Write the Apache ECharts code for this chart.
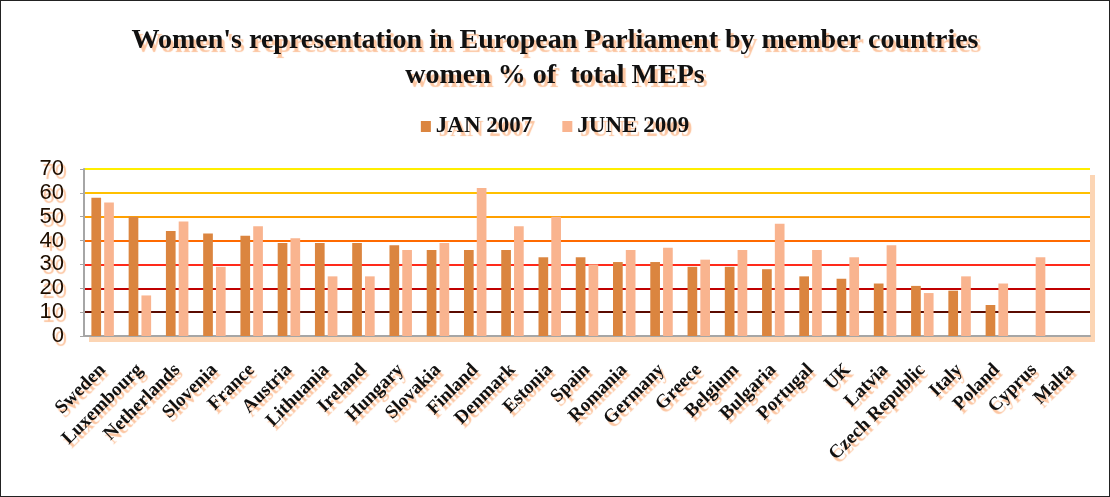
<!DOCTYPE html>
<html><head><meta charset="utf-8">
<script src="https://cdn.jsdelivr.net/npm/echarts@6/dist/echarts.min.js"></script>
<style>html,body{margin:0;padding:0;background:#fff}#c{width:1108px;height:495px;border:1px solid #222;}</style>
</head><body><div id="c"></div>
<script>
const categories = ["Sweden","Luxembourg","Netherlands","Slovenia","France","Austria","Lithuania","Ireland","Hungary","Slovakia","Finland","Denmark","Estonia","Spain","Romania","Germany","Greece","Belgium","Bulgaria","Portugal","UK","Latvia","Czech Republic","Italy","Poland","Cyprus","Malta"];
const jan2007 = [58,50,44,43,42,39,39,39,38,36,36,36,33,33,31,31,29,29,28,25,24,22,21,19,13,0,0];
const june2009 = [56,17,48,29,46,41,25,25,36,39,62,46,50,30,36,37,32,36,47,36,33,38,18,25,22,33,0];
const yTicks = [0,10,20,30,40,50,60,70];

const shadow = {textShadowColor:'#fcc5a0', textShadowOffsetX:3, textShadowOffsetY:4, textShadowBlur:1};
const chart = echarts.init(document.getElementById('c'));
chart.setOption({
  animation:false,
  title:{
    text:"Women's representation in European Parliament by member countries\nwomen % of  total MEPs",
    left:'center', top:17,
    textStyle:Object.assign({fontFamily:'Liberation Serif', fontWeight:'bold', fontSize:28, color:'#111', lineHeight:35}, shadow)
  },
  legend:{
    top:109, left:'center', itemWidth:10, itemHeight:11, itemGap:30,
    icon:'rect',
    textStyle:Object.assign({fontFamily:'Liberation Serif', fontWeight:'bold', fontSize:23, color:'#111'}, shadow)
  },
  grid:{left:83, right:19, top:168, bottom:160, show:true, backgroundColor:'#fff', borderWidth:0,
    shadowColor:'#fcd5b4', shadowOffsetX:5, shadowOffsetY:6, shadowBlur:0},
  xAxis:{
    type:'category', data:categories,
    axisLine:{lineStyle:{color:'#a6a6a6', width:2}},
    axisTick:{show:false},
    axisLabel:Object.assign({interval:0, rotate:45, margin:31, fontFamily:'Liberation Serif', fontWeight:'bold', fontSize:19, color:'#111'}, shadow)
  },
  yAxis:{
    type:'value', min:0, max:70, interval:10,
    axisLine:{show:true, lineStyle:{color:'#a6a6a6', width:2}},
    axisTick:{show:true, length:4, lineStyle:{color:'#a6a6a6'}},
    axisLabel:Object.assign({margin:20, fontFamily:'Liberation Sans', fontSize:22, color:'#1e0e00',
      formatter:v=>yTicks.includes(v)?String(v):''}, shadow),
    splitLine:{lineStyle:{width:2, color:['#a6a6a6','#5a0a00','#c00000','#ff2a1a','#ff6a00','#ffa000','#ffc000','#ffee00']}}
  },
  series:[
    {name:'JAN 2007', type:'bar', data:jan2007, barWidth:'26%', barGap:'32%',
      itemStyle:{color:'#db853f'}},
    {name:'JUNE 2009', type:'bar', data:june2009, barWidth:'26%',
      itemStyle:{color:'#f9b48f'}}
  ]
});
</script></body></html>
